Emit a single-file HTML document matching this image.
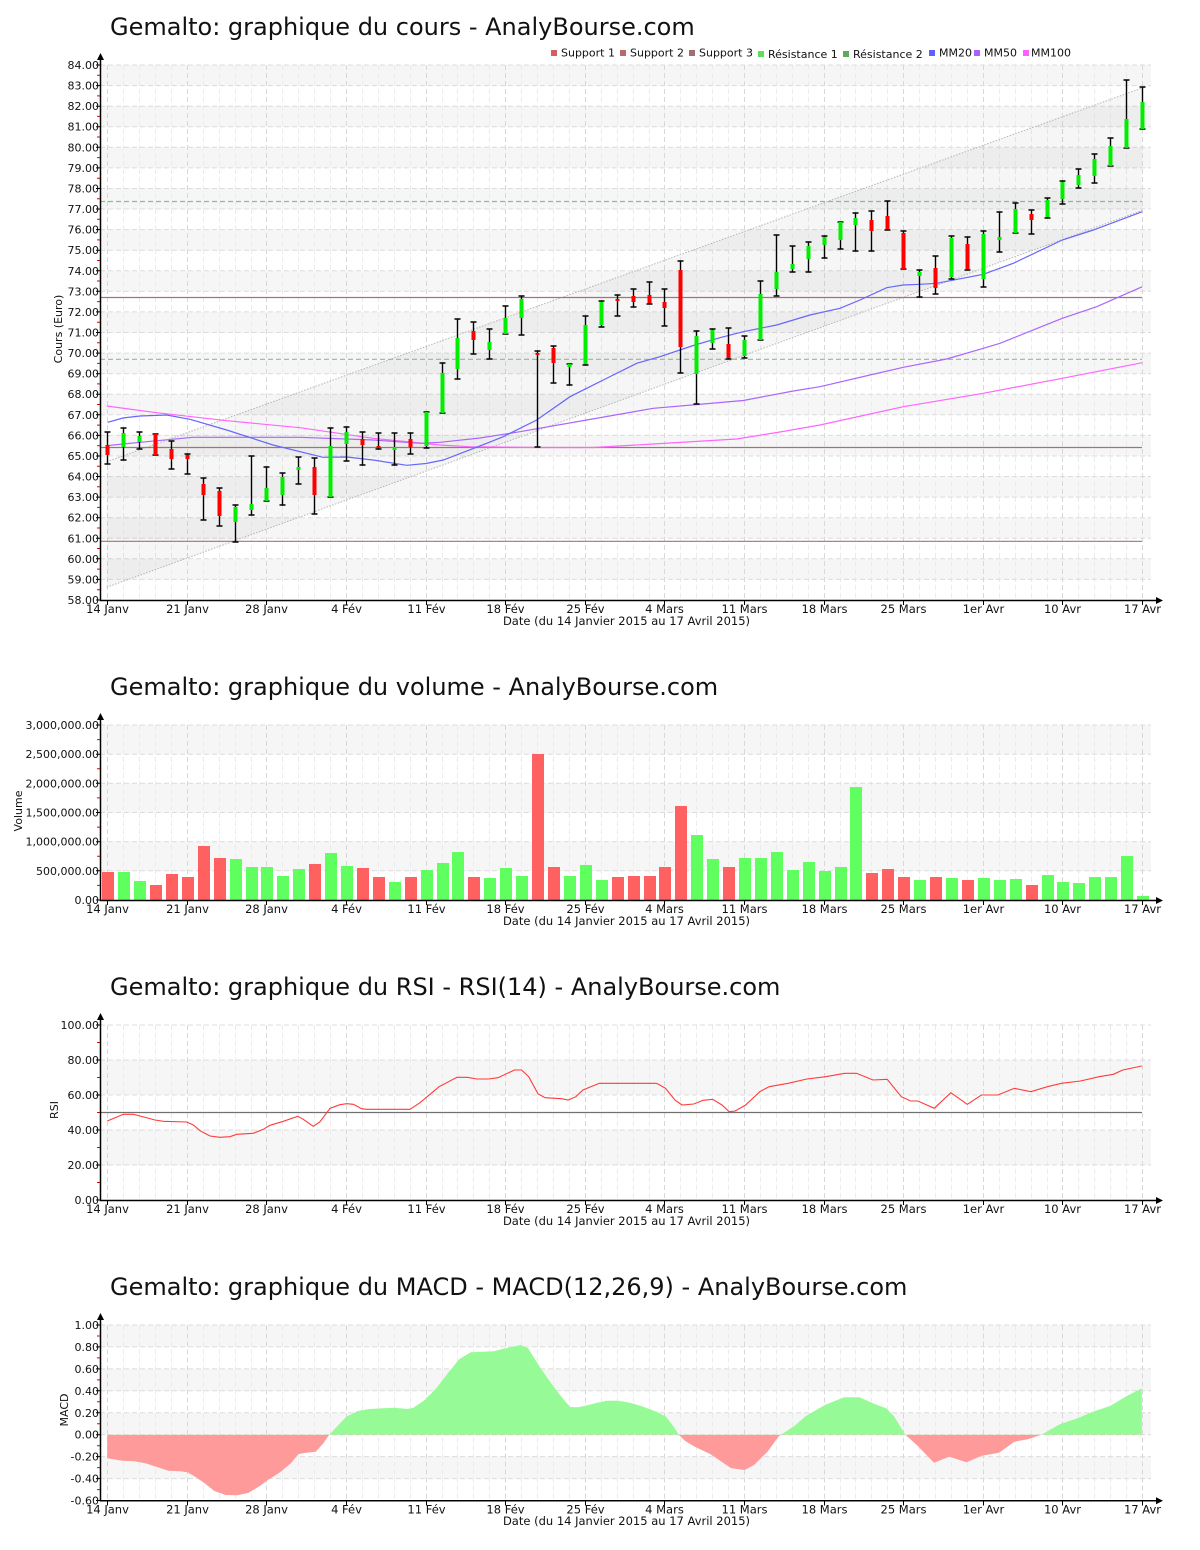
<!DOCTYPE html>
<html><head><meta charset="utf-8"><title>Gemalto</title>
<style>
html,body{margin:0;padding:0;background:#fff;}
svg{display:block;}
text{font-family:"DejaVu Sans","Liberation Sans",sans-serif;fill:#111;}
.t{font-size:24px;}
.yl{font-size:11px;text-anchor:end;}
.xl{font-size:11.5px;text-anchor:middle;}
.lg{font-size:11px;}
</style></head><body>
<svg width="1200" height="1550" viewBox="0 0 1200 1550" xmlns="http://www.w3.org/2000/svg">
<defs>
<path id="vmajL" d="M107.5 0v535M187.5 0v535M266.5 0v535M346.5 0v535M426.5 0v535M505.5 0v535M585.5 0v535M664.5 0v535M744.5 0v535M824.5 0v535M903.5 0v535M983.5 0v535M1062.5 0v535M1142.5 0v535"/>
<path id="vminL" d="M123.5 0v535M139.5 0v535M155.5 0v535M171.5 0v535M203.5 0v535M219.5 0v535M235.5 0v535M251.5 0v535M282.5 0v535M298.5 0v535M314.5 0v535M330.5 0v535M362.5 0v535M378.5 0v535M394.5 0v535M410.5 0v535M442.5 0v535M457.5 0v535M473.5 0v535M489.5 0v535M521.5 0v535M537.5 0v535M553.5 0v535M569.5 0v535M601.5 0v535M617.5 0v535M633.5 0v535M649.5 0v535M680.5 0v535M696.5 0v535M712.5 0v535M728.5 0v535M760.5 0v535M776.5 0v535M792.5 0v535M808.5 0v535M840.5 0v535M855.5 0v535M871.5 0v535M887.5 0v535M919.5 0v535M935.5 0v535M951.5 0v535M967.5 0v535M999.5 0v535M1015.5 0v535M1031.5 0v535M1047.5 0v535M1078.5 0v535M1094.5 0v535M1110.5 0v535M1126.5 0v535"/>
<path id="vmajS" d="M107.5 0v175M187.5 0v175M266.5 0v175M346.5 0v175M426.5 0v175M505.5 0v175M585.5 0v175M664.5 0v175M744.5 0v175M824.5 0v175M903.5 0v175M983.5 0v175M1062.5 0v175M1142.5 0v175"/>
<path id="vminS" d="M123.5 0v175M139.5 0v175M155.5 0v175M171.5 0v175M203.5 0v175M219.5 0v175M235.5 0v175M251.5 0v175M282.5 0v175M298.5 0v175M314.5 0v175M330.5 0v175M362.5 0v175M378.5 0v175M394.5 0v175M410.5 0v175M442.5 0v175M457.5 0v175M473.5 0v175M489.5 0v175M521.5 0v175M537.5 0v175M553.5 0v175M569.5 0v175M601.5 0v175M617.5 0v175M633.5 0v175M649.5 0v175M680.5 0v175M696.5 0v175M712.5 0v175M728.5 0v175M760.5 0v175M776.5 0v175M792.5 0v175M808.5 0v175M840.5 0v175M855.5 0v175M871.5 0v175M887.5 0v175M919.5 0v175M935.5 0v175M951.5 0v175M967.5 0v175M999.5 0v175M1015.5 0v175M1031.5 0v175M1047.5 0v175M1078.5 0v175M1094.5 0v175M1110.5 0v175M1126.5 0v175"/>
<path id="xt" d="M107.5 0v5M187.5 0v5M266.5 0v5M346.5 0v5M426.5 0v5M505.5 0v5M585.5 0v5M664.5 0v5M744.5 0v5M824.5 0v5M903.5 0v5M983.5 0v5M1062.5 0v5M1142.5 0v5"/>
<path id="macd" d="M107.2 1434.7L107.2 1458.3L122.5 1460.7L134 1461.3L145.4 1463.3L160.7 1468.3L168.4 1470.7L179.9 1471.3L187.5 1472.3L195.2 1476.7L204.7 1483.3L214.3 1491L225.8 1495L237.3 1495.3L248.8 1492.7L260.2 1485.7L267.9 1480L279.4 1472.7L290.9 1463.3L298.5 1454L306.2 1452.7L315.7 1451.7L323.4 1443.3L329.1 1434.7L336.8 1426.7L346.3 1416.7L357.8 1411L369.3 1409L382.7 1408.3L394.2 1407.7L407.6 1409L413.3 1407.7L424.8 1400L436.3 1388.3L447.8 1373.3L459.2 1359.3L470.7 1352.3L482.2 1351.7L493.7 1351.3L505.2 1348.3L520.5 1345L528.1 1348.3L539.6 1366.7L551.1 1383.3L562.6 1398.3L570.2 1407L577.9 1407.3L585.5 1405.7L597 1402.7L606.8 1400.7L618.3 1400.7L629.8 1402.7L641.2 1406L656.5 1411.7L666.1 1416.7L673.8 1426.7L678.7 1434.7L685.2 1441L694.8 1446.7L710.1 1454L721.6 1461.7L731.2 1468.3L744.6 1470L754.1 1465L767.5 1451.7L779 1436L781 1434.7L794.3 1426L805.8 1416L824.9 1405L844.1 1397.3L859.4 1397.3L874.7 1404L886.2 1408.3L893.8 1416L905.3 1434.7L916.8 1445L934 1462.7L949.3 1456.7L966.5 1462.3L981.8 1455.7L999.1 1452.7L1014.4 1441.7L1027.8 1439.3L1041.2 1434.7L1060.3 1424L1077.5 1418.3L1092.8 1411.7L1110 1406L1127.3 1395.7L1141.8 1388.3L1141.8 1434.7Z"/>
<clipPath id="cUp"><rect x="100" y="1300" width="1060" height="134.7"/></clipPath>
<clipPath id="cDn"><rect x="100" y="1434.7" width="1060" height="80"/></clipPath>
</defs>

<!-- ================= PRICE CHART ================= -->
<text class="t" x="110" y="35">Gemalto: graphique du cours - AnalyBourse.com</text>

<g class="lg">
<rect x="551" y="50" width="6" height="6" fill="#d06060"/><text class="lg" x="561" y="56.5">Support 1</text>
<rect x="620" y="50" width="6" height="6" fill="#b86a6a"/><text class="lg" x="630" y="56.5">Support 2</text>
<rect x="689" y="50" width="6" height="6" fill="#a07070"/><text class="lg" x="699" y="56.5">Support 3</text>
<rect x="758" y="51" width="6" height="6" fill="#60dd60"/><text class="lg" x="768" y="58">Résistance 1</text>
<rect x="843" y="51" width="6" height="6" fill="#60aa60"/><text class="lg" x="853" y="58">Résistance 2</text>
<rect x="929" y="50" width="6" height="6" fill="#6060ff"/><text class="lg" x="939" y="56.5">MM20</text>
<rect x="974" y="50" width="6" height="6" fill="#aa60ff"/><text class="lg" x="984" y="56.5">MM50</text>
<rect x="1023" y="50" width="6" height="6" fill="#ff60ff"/><text class="lg" x="1031" y="56.5">MM100</text>
</g>

<g fill="#f6f6f6">
<rect x="100" y="65" width="1051" height="20.6"/>
<rect x="100" y="106.2" width="1051" height="20.5"/>
<rect x="100" y="147.3" width="1051" height="20.6"/>
<rect x="100" y="188.5" width="1051" height="20.5"/>
<rect x="100" y="229.6" width="1051" height="20.6"/>
<rect x="100" y="270.8" width="1051" height="20.5"/>
<rect x="100" y="311.9" width="1051" height="20.6"/>
<rect x="100" y="353.1" width="1051" height="20.6"/>
<rect x="100" y="394.2" width="1051" height="20.6"/>
<rect x="100" y="435.4" width="1051" height="20.6"/>
<rect x="100" y="476.5" width="1051" height="20.6"/>
<rect x="100" y="517.7" width="1051" height="20.6"/>
<rect x="100" y="558.8" width="1051" height="20.6"/>
</g>
<use href="#vminL" y="65" stroke="#ebebeb" stroke-dasharray="5,3" fill="none"/>
<use href="#vmajL" y="65" stroke="#d8d8d8" stroke-dasharray="5,3" fill="none"/>
<path d="M100 65H1151M100 85.6H1151M100 106.2H1151M100 126.7H1151M100 147.3H1151M100 167.9H1151M100 188.5H1151M100 209H1151M100 229.6H1151M100 250.2H1151M100 270.8H1151M100 291.3H1151M100 311.9H1151M100 332.5H1151M100 353.1H1151M100 373.7H1151M100 394.2H1151M100 414.8H1151M100 435.4H1151M100 456H1151M100 476.5H1151M100 497.1H1151M100 517.7H1151M100 538.3H1151M100 558.8H1151M100 579.4H1151" stroke="#dcdcdc" stroke-dasharray="5,3" fill="none"/>

<polygon points="106.7,461.7 1142,88 1142,210.5 106.7,587.3" fill="#000" fill-opacity="0.035"/>
<path d="M106.7 461.7L1142 88M106.7 587.3L1142 210.5" stroke="#b4b4b4" stroke-dasharray="1.5,1.5" fill="none"/>

<path d="M100 297.5H1142M100 447.5H1142M100 541.3H1142" stroke="#a87272" stroke-width="1.2" fill="none"/>
<path d="M100 201.5H1142M100 359.3H1142" stroke="#8cbc8c" stroke-width="1.2" stroke-dasharray="5,3" fill="none"/>

<polyline fill="none" stroke="#ff66ff" stroke-width="1.2" points="106.7,406 156.7,412.7 226.7,420.7 300,427.7 373,438.3 440,445 470,446.7 540,447.5 593,447.5 653.3,444 736.7,439 780,432 820,425 903.3,406.7 983.3,393.3 1062.3,378.3 1142.3,362.7"/>
<polyline fill="none" stroke="#aa66ff" stroke-width="1.2" points="106.7,445.7 140,442.3 193,437.3 300,437.3 373,440 420,443.3 440,442.3 480,438 520,431.7 586.7,420 653.3,408.3 703.3,404 743.3,400.5 793.3,391 820,386.7 870,375 903.3,367.3 946.7,359 983.3,348.3 1000,343.3 1062.3,318.3 1096.7,306.7 1142.3,286.7"/>
<polyline fill="none" stroke="#6666ff" stroke-width="1.2" points="107.7,422.3 123,418 140,416 166.7,415 190,419.3 226.7,430 273,445 323,457.3 346.7,457 373,460 406.7,465.3 426,463.5 443.3,460 486.7,443.3 503.3,436.7 536.7,420 570,396.7 603.3,380 636.7,363.3 660,356.7 693.3,345.5 720,337.7 743.3,331.7 776.7,325 810,315 840,308.3 860,300 886.7,287.7 903,285 920,284.3 936.7,283.3 983.3,274.3 1013.3,263.3 1062.3,240 1093.3,230 1142.3,211.7"/>

<path fill="none" stroke="#000" stroke-width="1.4" d="M107.5 432V464M104.5 432h6M104.5 464h6M123.5 428V460M120.5 428h6M120.5 460h6M139.5 432V449M136.5 432h6M136.5 449h6M155.5 434V455M152.5 434h6M152.5 455h6M171.5 441V469M168.5 441h6M168.5 469h6M187.5 454V474M184.5 454h6M184.5 474h6M203.5 478V520M200.5 478h6M200.5 520h6M219.5 488V526M216.5 488h6M216.5 526h6M235.5 505V542M232.5 505h6M232.5 542h6M251.5 456V515M248.5 456h6M248.5 515h6M266.5 467V501M263.5 467h6M263.5 501h6M282.5 473V505M279.5 473h6M279.5 505h6M298.5 457V484M295.5 457h6M295.5 484h6M314.5 458V514M311.5 458h6M311.5 514h6M330.5 428V497M327.5 428h6M327.5 497h6M346.5 427V461M343.5 427h6M343.5 461h6M362.5 432V465M359.5 432h6M359.5 465h6M378.5 433V449M375.5 433h6M375.5 449h6M394.5 433V465M391.5 433h6M391.5 465h6M410.5 433V454M407.5 433h6M407.5 454h6M426.5 412V448M423.5 412h6M423.5 448h6M442.5 363V413M439.5 363h6M439.5 413h6M457.5 319V379M454.5 319h6M454.5 379h6M473.5 322V354M470.5 322h6M470.5 354h6M489.5 329V359M486.5 329h6M486.5 359h6M505.5 306V334M502.5 306h6M502.5 334h6M521.5 296V335M518.5 296h6M518.5 335h6M537.5 351V447M534.5 351h6M534.5 447h6M553.5 346V383M550.5 346h6M550.5 383h6M569.5 364V385M566.5 364h6M566.5 385h6M585.5 316V365M582.5 316h6M582.5 365h6M601.5 301V327M598.5 301h6M598.5 327h6M617.5 295V316M614.5 295h6M614.5 316h6M633.5 289V307M630.5 289h6M630.5 307h6M649.5 282V304M646.5 282h6M646.5 304h6M664.5 289V326M661.5 289h6M661.5 326h6M680.5 261V373M677.5 261h6M677.5 373h6M696.5 331V404M693.5 331h6M693.5 404h6M712.5 329V349M709.5 329h6M709.5 349h6M728.5 328V359M725.5 328h6M725.5 359h6M744.5 336V358M741.5 336h6M741.5 358h6M760.5 281V340M757.5 281h6M757.5 340h6M776.5 235V296M773.5 235h6M773.5 296h6M792.5 246V272M789.5 246h6M789.5 272h6M808.5 242V272M805.5 242h6M805.5 272h6M824.5 236V258M821.5 236h6M821.5 258h6M840.5 222V249M837.5 222h6M837.5 249h6M855.5 213V251M852.5 213h6M852.5 251h6M871.5 211V251M868.5 211h6M868.5 251h6M887.5 201V230M884.5 201h6M884.5 230h6M903.5 231V269M900.5 231h6M900.5 269h6M919.5 270V297M916.5 270h6M916.5 297h6M935.5 256V294M932.5 256h6M932.5 294h6M951.5 236V279M948.5 236h6M948.5 279h6M967.5 237V270M964.5 237h6M964.5 270h6M983.5 231V287M980.5 231h6M980.5 287h6M999.5 212V252M996.5 212h6M996.5 252h6M1015.5 203V233M1012.5 203h6M1012.5 233h6M1031.5 210V234M1028.5 210h6M1028.5 234h6M1047.5 198V218M1044.5 198h6M1044.5 218h6M1062.5 181V204M1059.5 181h6M1059.5 204h6M1078.5 169V188M1075.5 169h6M1075.5 188h6M1094.5 154V183M1091.5 154h6M1091.5 183h6M1110.5 138V166M1107.5 138h6M1107.5 166h6M1126.5 80V148M1123.5 80h6M1123.5 148h6M1142.5 87V129M1139.5 87h6M1139.5 129h6"/>
<path fill="#ff0000" d="M105.5 445h4v10h-4zM153.5 434h4v21h-4zM169.5 449h4v10h-4zM185.5 455h4v4h-4zM201.5 484h4v11h-4zM217.5 491h4v25h-4zM312.5 467h4v28h-4zM360.5 439h4v6h-4zM376.5 446h4v2h-4zM408.5 439h4v8h-4zM471.5 331h4v9h-4zM535.5 353h4v2h-4zM551.5 348h4v15h-4zM615.5 299h4v2h-4zM631.5 296h4v6h-4zM647.5 295h4v8h-4zM662.5 302h4v6h-4zM678.5 270h4v77h-4zM726.5 344h4v14h-4zM869.5 220h4v11h-4zM885.5 216h4v13h-4zM901.5 233h4v36h-4zM933.5 268h4v20h-4zM965.5 244h4v25h-4zM1029.5 214h4v6h-4z"/>
<path fill="#00ee00" d="M121.5 433h4v14h-4zM137.5 436h4v6h-4zM233.5 507h4v15h-4zM249.5 504h4v6h-4zM264.5 488h4v13h-4zM280.5 477h4v18h-4zM296.5 467h4v3h-4zM328.5 446h4v51h-4zM344.5 432h4v12h-4zM392.5 447h4v3h-4zM424.5 412h4v34h-4zM440.5 373h4v40h-4zM455.5 338h4v31h-4zM487.5 342h4v8h-4zM503.5 318h4v16h-4zM519.5 299h4v19h-4zM567.5 364h4v3h-4zM583.5 325h4v39h-4zM599.5 302h4v23h-4zM694.5 336h4v38h-4zM710.5 330h4v13h-4zM742.5 340h4v16h-4zM758.5 294h4v46h-4zM774.5 272h4v17h-4zM790.5 264h4v5h-4zM806.5 246h4v13h-4zM822.5 237h4v8h-4zM838.5 222h4v18h-4zM853.5 218h4v7h-4zM917.5 272h4v4h-4zM949.5 238h4v39h-4zM981.5 234h4v45h-4zM997.5 237h4v3h-4zM1013.5 209h4v24h-4zM1045.5 200h4v17h-4zM1060.5 182h4v17h-4zM1076.5 175h4v10h-4zM1092.5 159h4v17h-4zM1108.5 146h4v20h-4zM1124.5 119h4v29h-4zM1140.5 102h4v27h-4z"/>

<path d="M100.5 59V600.5H1156" stroke="#000" stroke-width="1.5" fill="none"/>
<polygon points="100.5,53 97,60 104,60" fill="#000"/>
<polygon points="1163,600.5 1156,597 1156,604" fill="#000"/>
<path d="M96 65H100M96 85.6H100M96 106.2H100M96 126.7H100M96 147.3H100M96 167.9H100M96 188.5H100M96 209H100M96 229.6H100M96 250.2H100M96 270.8H100M96 291.3H100M96 311.9H100M96 332.5H100M96 353.1H100M96 373.7H100M96 394.2H100M96 414.8H100M96 435.4H100M96 456H100M96 476.5H100M96 497.1H100M96 517.7H100M96 538.3H100M96 558.8H100M96 579.4H100M96 600H100" stroke="#000" fill="none"/>
<path d="M97 75.3H100M97 95.9H100M97 116.4H100M97 137H100M97 157.6H100M97 178.2H100M97 198.8H100M97 219.3H100M97 239.9H100M97 260.5H100M97 281H100M97 301.6H100M97 322.2H100M97 342.8H100M97 363.4H100M97 383.9H100M97 404.5H100M97 425.1H100M97 445.7H100M97 466.2H100M97 486.8H100M97 507.4H100M97 528H100M97 548.5H100M97 569.1H100M97 589.7H100" stroke="#e00000" fill="none"/>
<use href="#xt" y="600" stroke="#000" fill="none"/>
<g class="yl">
<text class="yl" x="99" y="69">84.00</text><text class="yl" x="99" y="89.6">83.00</text><text class="yl" x="99" y="110.2">82.00</text><text class="yl" x="99" y="130.7">81.00</text><text class="yl" x="99" y="151.3">80.00</text><text class="yl" x="99" y="171.9">79.00</text><text class="yl" x="99" y="192.5">78.00</text><text class="yl" x="99" y="213">77.00</text><text class="yl" x="99" y="233.6">76.00</text><text class="yl" x="99" y="254.2">75.00</text><text class="yl" x="99" y="274.8">74.00</text><text class="yl" x="99" y="295.3">73.00</text><text class="yl" x="99" y="315.9">72.00</text><text class="yl" x="99" y="336.5">71.00</text><text class="yl" x="99" y="357.1">70.00</text><text class="yl" x="99" y="377.7">69.00</text><text class="yl" x="99" y="398.2">68.00</text><text class="yl" x="99" y="418.8">67.00</text><text class="yl" x="99" y="439.4">66.00</text><text class="yl" x="99" y="460">65.00</text><text class="yl" x="99" y="480.5">64.00</text><text class="yl" x="99" y="501.1">63.00</text><text class="yl" x="99" y="521.7">62.00</text><text class="yl" x="99" y="542.3">61.00</text><text class="yl" x="99" y="562.8">60.00</text><text class="yl" x="99" y="583.4">59.00</text><text class="yl" x="99" y="604">58.00</text>
</g>
<text class="lg" transform="translate(62,329) rotate(-90)" text-anchor="middle">Cours (Euro)</text>
<g>
<text class="xl" x="107.5" y="613">14 Janv</text><text class="xl" x="187.5" y="613">21 Janv</text><text class="xl" x="266.5" y="613">28 Janv</text><text class="xl" x="346.5" y="613">4 Fév</text><text class="xl" x="426.5" y="613">11 Fév</text><text class="xl" x="505.5" y="613">18 Fév</text><text class="xl" x="585.5" y="613">25 Fév</text><text class="xl" x="664.5" y="613">4 Mars</text><text class="xl" x="744.5" y="613">11 Mars</text><text class="xl" x="824.5" y="613">18 Mars</text><text class="xl" x="903.5" y="613">25 Mars</text><text class="xl" x="983.5" y="613">1er Avr</text><text class="xl" x="1062.5" y="613">10 Avr</text><text class="xl" x="1142.5" y="613">17 Avr</text>
</g>
<text class="xl" x="626.5" y="625">Date (du 14 Janvier 2015 au 17 Avril 2015)</text>

<!-- ================= VOLUME CHART ================= -->
<text class="t" x="110" y="695">Gemalto: graphique du volume - AnalyBourse.com</text>
<g fill="#f6f6f6">
<rect x="100" y="725" width="1051" height="29.2"/>
<rect x="100" y="783.3" width="1051" height="29.2"/>
<rect x="100" y="841.7" width="1051" height="29.1"/>
</g>
<use href="#vminS" y="725" stroke="#ebebeb" stroke-dasharray="5,3" fill="none"/>
<use href="#vmajS" y="725" stroke="#d8d8d8" stroke-dasharray="5,3" fill="none"/>
<path d="M100 725H1151M100 754.2H1151M100 783.3H1151M100 812.5H1151M100 841.7H1151M100 870.8H1151" stroke="#dcdcdc" stroke-dasharray="5,3" fill="none"/>
<path fill="#ff6060" d="M102 872h12V900h-12zM150 885h12V900h-12zM166 874h12V900h-12zM182 877h12V900h-12zM198 846h12V900h-12zM214 858h12V900h-12zM309 864h12V900h-12zM357 868h12V900h-12zM373 877h12V900h-12zM405 877h12V900h-12zM468 877h12V900h-12zM532 754h12V900h-12zM548 867h12V900h-12zM612 877h12V900h-12zM628 876h12V900h-12zM644 876h12V900h-12zM659 867h12V900h-12zM675 806h12V900h-12zM723 867h12V900h-12zM866 873h12V900h-12zM882 869h12V900h-12zM898 877h12V900h-12zM930 877h12V900h-12zM962 880h12V900h-12zM1026 885h12V900h-12z"/>
<path fill="#60ff60" d="M118 872h12V900h-12zM134 881h12V900h-12zM230 859h12V900h-12zM246 867h12V900h-12zM261 867h12V900h-12zM277 876h12V900h-12zM293 869h12V900h-12zM325 853h12V900h-12zM341 866h12V900h-12zM389 882h12V900h-12zM421 870h12V900h-12zM437 863h12V900h-12zM452 852h12V900h-12zM484 878h12V900h-12zM500 868h12V900h-12zM516 876h12V900h-12zM564 876h12V900h-12zM580 865h12V900h-12zM596 880h12V900h-12zM691 835h12V900h-12zM707 859h12V900h-12zM739 858h12V900h-12zM755 858h12V900h-12zM771 852h12V900h-12zM787 870h12V900h-12zM803 862h12V900h-12zM819 871h12V900h-12zM835 867h12V900h-12zM850 787h12V900h-12zM914 880h12V900h-12zM946 878h12V900h-12zM978 878h12V900h-12zM994 880h12V900h-12zM1010 879h12V900h-12zM1042 875h12V900h-12zM1057 882h12V900h-12zM1073 883h12V900h-12zM1089 877h12V900h-12zM1105 877h12V900h-12zM1121 856h12V900h-12zM1137 896h12V900h-12z"/>
<path d="M100.5 719V900.5H1156" stroke="#000" stroke-width="1.5" fill="none"/>
<polygon points="100.5,713 97,720 104,720" fill="#000"/>
<polygon points="1163,900.5 1156,897 1156,904" fill="#000"/>
<path d="M96 725H100M96 754.2H100M96 783.3H100M96 812.5H100M96 841.7H100M96 870.8H100M96 900H100" stroke="#000" fill="none"/>
<path d="M97 739.6H100M97 768.8H100M97 797.9H100M97 827.1H100M97 856.3H100M97 885.4H100" stroke="#e00000" fill="none"/>
<use href="#xt" y="900" stroke="#000" fill="none"/>
<text class="yl" x="99" y="729">3,000,000.00</text><text class="yl" x="99" y="758.2">2,500,000.00</text><text class="yl" x="99" y="787.3">2,000,000.00</text><text class="yl" x="99" y="816.5">1,500,000.00</text><text class="yl" x="99" y="845.7">1,000,000.00</text><text class="yl" x="99" y="874.8">500,000.00</text><text class="yl" x="99" y="904">0.00</text>
<text class="lg" transform="translate(22,811) rotate(-90)" text-anchor="middle">Volume</text>
<g>
<text class="xl" x="107.5" y="913">14 Janv</text><text class="xl" x="187.5" y="913">21 Janv</text><text class="xl" x="266.5" y="913">28 Janv</text><text class="xl" x="346.5" y="913">4 Fév</text><text class="xl" x="426.5" y="913">11 Fév</text><text class="xl" x="505.5" y="913">18 Fév</text><text class="xl" x="585.5" y="913">25 Fév</text><text class="xl" x="664.5" y="913">4 Mars</text><text class="xl" x="744.5" y="913">11 Mars</text><text class="xl" x="824.5" y="913">18 Mars</text><text class="xl" x="903.5" y="913">25 Mars</text><text class="xl" x="983.5" y="913">1er Avr</text><text class="xl" x="1062.5" y="913">10 Avr</text><text class="xl" x="1142.5" y="913">17 Avr</text>
</g>
<text class="xl" x="626.5" y="925">Date (du 14 Janvier 2015 au 17 Avril 2015)</text>

<!-- ================= RSI CHART ================= -->
<text class="t" x="110" y="995">Gemalto: graphique du RSI - RSI(14) - AnalyBourse.com</text>
<g fill="#f6f6f6">
<rect x="100" y="1060" width="1051" height="35"/>
<rect x="100" y="1130" width="1051" height="35"/>
</g>
<use href="#vminS" y="1025" stroke="#ebebeb" stroke-dasharray="5,3" fill="none"/>
<use href="#vmajS" y="1025" stroke="#d8d8d8" stroke-dasharray="5,3" fill="none"/>
<path d="M100 1025H1151M100 1060H1151M100 1095H1151M100 1130H1151M100 1165H1151" stroke="#dcdcdc" stroke-dasharray="5,3" fill="none"/>
<path d="M100 1112.5H1142" stroke="#707070" stroke-width="1.3" fill="none"/>
<polyline fill="none" stroke="#ff3b3b" stroke-width="1.1" points="107.3,1121 123.3,1114.3 133.3,1114.3 140,1116 155,1120 163.3,1121.3 186.7,1122 193.3,1125 200,1130.7 210,1136 220,1137.3 230,1136.7 236.7,1134.3 253.3,1133.3 263.3,1129.3 270,1125.3 283.3,1121.3 297.7,1116.3 303.3,1119.3 313.3,1126.3 320,1121.7 330,1108.3 340,1104.7 346.7,1103.7 353.3,1104.3 361.7,1108.7 366.7,1109.3 410,1109.3 420,1102.7 439.1,1086.7 457,1077.3 467.4,1077.3 476.8,1079 488.6,1079 498,1077.7 514.5,1070 521.6,1070 528.7,1076.7 538.1,1094 545.2,1097.7 561.7,1098.7 568,1100 575.9,1096.7 582.9,1090 599.4,1083.3 656,1083.3 658.4,1084.3 665.5,1088.3 674.9,1100 682,1105 693.8,1104 703.2,1100.3 712.6,1099.3 722,1105 729.1,1111.7 735.2,1111 745.6,1105 759.8,1091.7 769.2,1086.7 788.1,1083.3 806.9,1079 825.8,1076.7 844.7,1073.3 856.5,1073.3 873,1080 887.2,1079.3 901.3,1096.7 910.7,1101 917.8,1101 934.3,1108.3 950.8,1092.7 967.3,1104.3 981.4,1095 997.9,1095 1014.4,1088.3 1030.9,1091.7 1047.4,1086.7 1061.5,1083.3 1080.4,1081 1099.2,1076.7 1113.4,1074.3 1122.8,1070 1141.8,1066"/>
<path d="M100.5 1019V1200.5H1156" stroke="#000" stroke-width="1.5" fill="none"/>
<polygon points="100.5,1013 97,1020 104,1020" fill="#000"/>
<polygon points="1163,1200.5 1156,1197 1156,1204" fill="#000"/>
<path d="M96 1025H100M96 1060H100M96 1095H100M96 1130H100M96 1165H100M96 1200H100" stroke="#000" fill="none"/>
<path d="M97 1042.5H100M97 1077.5H100M97 1112.5H100M97 1147.5H100M97 1182.5H100" stroke="#e00000" fill="none"/>
<use href="#xt" y="1200" stroke="#000" fill="none"/>
<text class="yl" x="99" y="1029">100.00</text><text class="yl" x="99" y="1064">80.00</text><text class="yl" x="99" y="1099">60.00</text><text class="yl" x="99" y="1134">40.00</text><text class="yl" x="99" y="1169">20.00</text><text class="yl" x="99" y="1204">0.00</text>
<text class="lg" transform="translate(58,1110) rotate(-90)" text-anchor="middle">RSI</text>
<g>
<text class="xl" x="107.5" y="1213">14 Janv</text><text class="xl" x="187.5" y="1213">21 Janv</text><text class="xl" x="266.5" y="1213">28 Janv</text><text class="xl" x="346.5" y="1213">4 Fév</text><text class="xl" x="426.5" y="1213">11 Fév</text><text class="xl" x="505.5" y="1213">18 Fév</text><text class="xl" x="585.5" y="1213">25 Fév</text><text class="xl" x="664.5" y="1213">4 Mars</text><text class="xl" x="744.5" y="1213">11 Mars</text><text class="xl" x="824.5" y="1213">18 Mars</text><text class="xl" x="903.5" y="1213">25 Mars</text><text class="xl" x="983.5" y="1213">1er Avr</text><text class="xl" x="1062.5" y="1213">10 Avr</text><text class="xl" x="1142.5" y="1213">17 Avr</text>
</g>
<text class="xl" x="626.5" y="1225">Date (du 14 Janvier 2015 au 17 Avril 2015)</text>

<!-- ================= MACD CHART ================= -->
<text class="t" x="110" y="1295">Gemalto: graphique du MACD - MACD(12,26,9) - AnalyBourse.com</text>
<g fill="#f6f6f6">
<rect x="100" y="1325" width="1051" height="21.9"/>
<rect x="100" y="1368.9" width="1051" height="21.9"/>
<rect x="100" y="1412.8" width="1051" height="21.9"/>
<rect x="100" y="1456.6" width="1051" height="22"/>
</g>
<use href="#vminS" y="1325.5" stroke="#ebebeb" stroke-dasharray="5,3" fill="none"/>
<use href="#vmajS" y="1325.5" stroke="#d8d8d8" stroke-dasharray="5,3" fill="none"/>
<path d="M100 1325H1151M100 1346.9H1151M100 1368.9H1151M100 1390.8H1151M100 1412.8H1151M100 1434.7H1151M100 1456.6H1151M100 1478.6H1151" stroke="#dcdcdc" stroke-dasharray="5,3" fill="none"/>
<g clip-path="url(#cUp)"><use href="#macd" fill="#96fb96"/></g>
<g clip-path="url(#cDn)"><use href="#macd" fill="#ff9a9a"/></g>
<path d="M100.5 1319V1500.8H1156" stroke="#000" stroke-width="1.5" fill="none"/>
<polygon points="100.5,1313 97,1320 104,1320" fill="#000"/>
<polygon points="1163,1500.8 1156,1497.3 1156,1504.3" fill="#000"/>
<path d="M96 1325H100M96 1346.9H100M96 1368.9H100M96 1390.8H100M96 1412.8H100M96 1434.7H100M96 1456.6H100M96 1478.6H100M96 1500.5H100" stroke="#000" fill="none"/>
<path d="M97 1336H100M97 1357.9H100M97 1379.9H100M97 1401.8H100M97 1423.7H100M97 1445.7H100M97 1467.6H100M97 1489.6H100" stroke="#e00000" fill="none"/>
<use href="#xt" y="1500.5" stroke="#000" fill="none"/>
<text class="yl" x="99" y="1329">1.00</text><text class="yl" x="99" y="1350.9">0.80</text><text class="yl" x="99" y="1372.9">0.60</text><text class="yl" x="99" y="1394.8">0.40</text><text class="yl" x="99" y="1416.8">0.20</text><text class="yl" x="99" y="1438.7">0.00</text><text class="yl" x="99" y="1460.6">-0.20</text><text class="yl" x="99" y="1482.6">-0.40</text><text class="yl" x="99" y="1504.5">-0.60</text>
<text class="lg" transform="translate(68,1410) rotate(-90)" text-anchor="middle">MACD</text>
<g>
<text class="xl" x="107.5" y="1513.5">14 Janv</text><text class="xl" x="187.5" y="1513.5">21 Janv</text><text class="xl" x="266.5" y="1513.5">28 Janv</text><text class="xl" x="346.5" y="1513.5">4 Fév</text><text class="xl" x="426.5" y="1513.5">11 Fév</text><text class="xl" x="505.5" y="1513.5">18 Fév</text><text class="xl" x="585.5" y="1513.5">25 Fév</text><text class="xl" x="664.5" y="1513.5">4 Mars</text><text class="xl" x="744.5" y="1513.5">11 Mars</text><text class="xl" x="824.5" y="1513.5">18 Mars</text><text class="xl" x="903.5" y="1513.5">25 Mars</text><text class="xl" x="983.5" y="1513.5">1er Avr</text><text class="xl" x="1062.5" y="1513.5">10 Avr</text><text class="xl" x="1142.5" y="1513.5">17 Avr</text>
</g>
<text class="xl" x="626.5" y="1525">Date (du 14 Janvier 2015 au 17 Avril 2015)</text>
</svg>
</body></html>
